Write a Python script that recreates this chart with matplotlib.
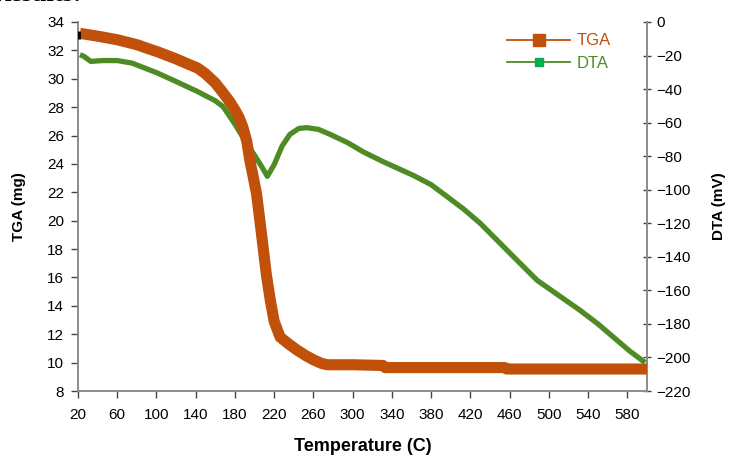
import matplotlib.pyplot as plt
from matplotlib.lines import Line2D

# TGA curve (mg)
tga_temp = [22, 40, 60, 80, 101, 120, 130, 142, 150, 160, 168, 175, 180, 184, 188, 192,
            195, 198, 202, 207, 212, 216, 220, 226, 235, 243, 252, 260, 268, 274, 300,
            331, 333, 455, 457, 600]
tga_mass = [33.2, 33.0, 32.75, 32.4, 31.9, 31.4, 31.1, 30.75, 30.35, 29.7, 29.0, 28.35,
            27.8, 27.3, 26.6, 25.6, 24.3, 23.3, 21.9, 19.1, 16.2, 14.4, 12.9, 11.8, 11.3,
            10.9, 10.5, 10.2, 9.95, 9.85, 9.85, 9.8, 9.65, 9.65, 9.55, 9.55]

# DTA curve (mV)
dta_temp = [22, 26, 33, 45, 60, 75, 100, 120, 142, 160, 168, 180, 190, 200, 207, 213,
            220, 228, 236, 245, 253, 265, 277, 295, 311, 330, 345, 362, 380, 396, 413,
            430, 447, 464, 476, 488, 510, 532, 550, 566, 582, 598]
dta_val = [-19.5, -20.5, -23.5, -23.0, -23.0, -24.5, -30.2, -35.5, -41.5, -47.0, -50.5,
           -61.0, -70.5, -79.5, -86.0, -92.0, -85.0, -74.0, -67.0, -63.5, -63.0, -64.0,
           -67.0, -72.0, -77.5, -83.0, -87.0, -91.5, -97.0, -104.0, -111.5, -120.0,
           -130.0, -140.0, -147.0, -154.0, -163.0, -172.0, -180.0, -188.0, -196.0, -203.0]

x_ticks = list(range(20, 600, 40))
tga_ticks = list(range(8, 35, 2))
dta_ticks = list(range(-220, 1, 20))

tga_color = '#C0500A'
dta_color = '#4E8B24'
spine_color = '#8C8C8C'

plt.rcParams['font.family'] = ['Liberation Sans', 'DejaVu Sans']

fig = plt.figure(figsize=(7.29, 4.57), dpi=100)
ax = fig.add_axes([0.107, 0.1444, 0.7805, 0.8075])
ax2 = ax.twinx()

ax.plot(tga_temp, tga_mass, color=tga_color, lw=8, solid_capstyle='butt',
        solid_joinstyle='round', zorder=3)
ax.plot([21], [33.1], marker='|', color='black', ms=6, mew=2, zorder=4)
ax2.plot(dta_temp, dta_val, color=dta_color, lw=3.8, solid_capstyle='butt',
         solid_joinstyle='round', zorder=2)
ax.set_zorder(ax2.get_zorder() + 1)
ax.patch.set_visible(False)

ax.set_xlim(20, 600)
ax.set_ylim(8, 34)
ax2.set_ylim(-220, 0)
ax.set_xticks(x_ticks)
ax.set_yticks(tga_ticks)
ax2.set_yticks(dta_ticks)

for a in (ax, ax2):
    a.spines['top'].set_visible(False)
    for s in ('left', 'right', 'bottom'):
        a.spines[s].set_color(spine_color)
        a.spines[s].set_linewidth(1.2)

ax.tick_params(axis='both', labelsize=11, color='#444444', length=5, width=1)
ax.tick_params(axis='x', pad=7)
ax.tick_params(axis='y', pad=5)
ax2.tick_params(axis='y', labelsize=11, color='#444444', length=6, width=1,
                direction='inout', pad=4)

ax.set_xlabel('Temperature (C)', fontsize=13, fontweight='bold', labelpad=12)
ax.set_ylabel('TGA (mg)', fontsize=11, fontweight='bold', labelpad=15)
ax2.set_ylabel('DTA (mV)', fontsize=11, fontweight='bold', rotation=90, labelpad=15)

handles = [
    Line2D([], [], color=tga_color, lw=1.3, marker='s', ms=9, mfc=tga_color, mec=tga_color),
    Line2D([], [], color=dta_color, lw=1.3, marker='s', ms=6, mfc='#00B050', mec='#00B050'),
]
fig.legend(handles, ['TGA', 'DTA'], loc='upper left', bbox_to_anchor=(0.684, 0.945),
           frameon=False, fontsize=12, handlelength=3.8, handletextpad=0.4,
           labelspacing=0.45, borderpad=0, labelcolor=[tga_color, dta_color])

fig.text(-0.012, 0.9985, 'Results:', fontsize=19, fontweight='bold',
         family=['Liberation Serif'], va='baseline')

fig.savefig('out.png', dpi=100)
